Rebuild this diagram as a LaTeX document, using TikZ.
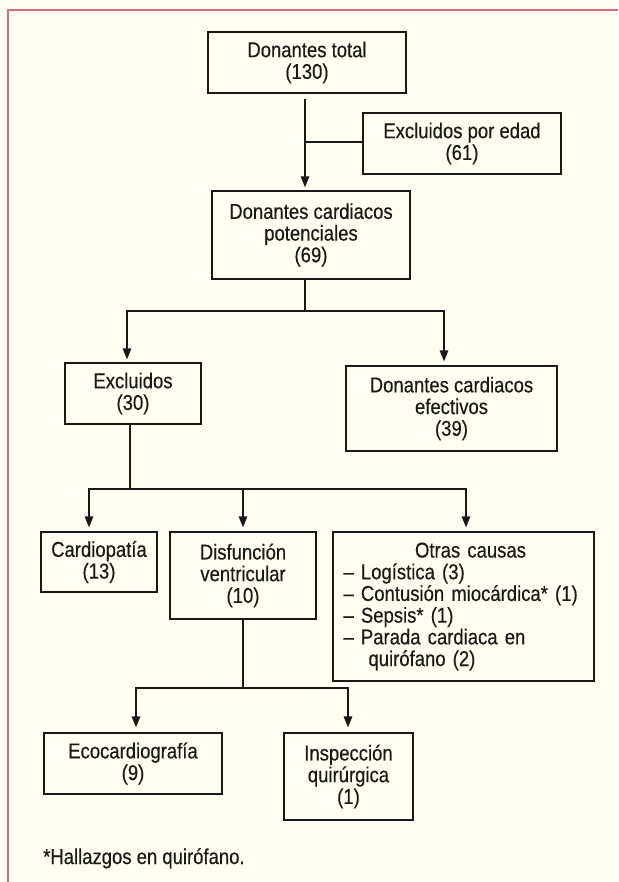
\documentclass[tikz,border=0pt]{standalone}
\usepackage{fontspec}
\setmainfont{Liberation Sans}[FakeStretch=0.86,FakeBold=0.35]
\usetikzlibrary{arrows.meta}
\definecolor{bg}{RGB}{254,254,242}
\definecolor{framecol}{RGB}{214,108,120}
\definecolor{ink}{RGB}{25,25,25}
\newcommand\diagfont{\fontsize{21.5pt}{21.7pt}\selectfont}
\begin{document}
\begin{tikzpicture}[x=1pt,y=-1pt,
  box/.style={draw=ink, line width=1.2pt, inner sep=0pt, align=center, font=\diagfont, text=ink},
  conn/.style={draw=ink, line width=1.2pt},
  arr/.style={conn, -{Triangle[length=11pt,width=8.5pt]}, shorten >=4pt}]
\fill[bg] (0,0) rectangle (618,882);
\useasboundingbox (0,0) rectangle (618,882);
\draw[framecol, line width=2pt] (8,882) -- (8,10) -- (618,10);

\node[box, minimum width=198pt, minimum height=61pt] (tot) at (307,62.5) {Donantes total\\(130)};
\node[box, minimum width=198pt, minimum height=61pt] (edad) at (462,143.5) {Excluidos por edad\\(61)};
\node[box, minimum width=198pt, minimum height=88pt] (pot) at (311,235) {Donantes cardiacos\\potenciales\\(69)};
\node[box, minimum width=136pt, minimum height=61pt] (exc) at (133,393.5) {Excluidos\\(30)};
\node[box, minimum width=211pt, minimum height=85pt] (efe) at (451.5,408.5) {Donantes cardiacos\\efectivos\\(39)};
\node[box, minimum width=116pt, minimum height=60pt] (card) at (99,562) {Cardiopatía\\(13)};
\node[box, minimum width=146pt, minimum height=87pt] (dis) at (243,575.5) {Disfunción\\ventricular\\(10)};
\node[box, minimum width=261pt, minimum height=149pt, align=left, text width=240pt] (otras) at (463.5,606.5)
  {\makebox[240pt]{\hspace*{14pt}Otras causas}\\
   – Logística (3)\\
   – Contusión miocárdica* (1)\\
   – Sepsis* (1)\\
   – Parada cardiaca en\\
   \hspace*{25pt}quirófano (2)};
\node[box, minimum width=178pt, minimum height=61pt] (eco) at (133,763.5) {Ecocardiografía\\(9)};
\node[box, minimum width=129pt, minimum height=87pt] (insp) at (348.5,776.5) {Inspección\\quirúrgica\\(1)};
\node[anchor=base west, inner sep=0pt, font=\diagfont, text=ink] (foot) at (43,864) {*Hallazgos en quirófano.};

\coordinate (j1) at (305,142);
\draw[arr, shorten >=3pt] ([yshift=-5pt]tot.south -| j1) -- (j1 |- pot.north);
\draw[conn] (edad.west |- j1) -- (j1);

\coordinate (j2) at (305,311);
\coordinate (a1) at (127,311);
\coordinate (a2) at (444,311);
\draw[conn] (pot.south -| j2) -- (j2);
\draw[arr, shorten >=3pt] (j2) -| (exc.north -| a1);
\draw[arr] (j2) -| (efe.north -| a2);

\coordinate (j3) at (130,489);
\coordinate (b1) at (89,489);
\coordinate (b2) at (243,489);
\coordinate (b3) at (466,489);
\draw[conn] (exc.south -| j3) -- (j3);
\draw[arr] (j3) -| (card.north -| b1);
\draw[arr] (b2) -- (dis.north -| b2);
\draw[arr] (j3) -| (otras.north -| b3);

\coordinate (j4) at (243,688);
\coordinate (c1) at (136,688);
\coordinate (c2) at (348,688);
\draw[conn] (dis.south -| j4) -- (j4);
\draw[arr, shorten >=5pt] (j4) -| (eco.north -| c1);
\draw[arr, shorten >=5pt] (j4) -| (insp.north -| c2);
\end{tikzpicture}
\end{document}
